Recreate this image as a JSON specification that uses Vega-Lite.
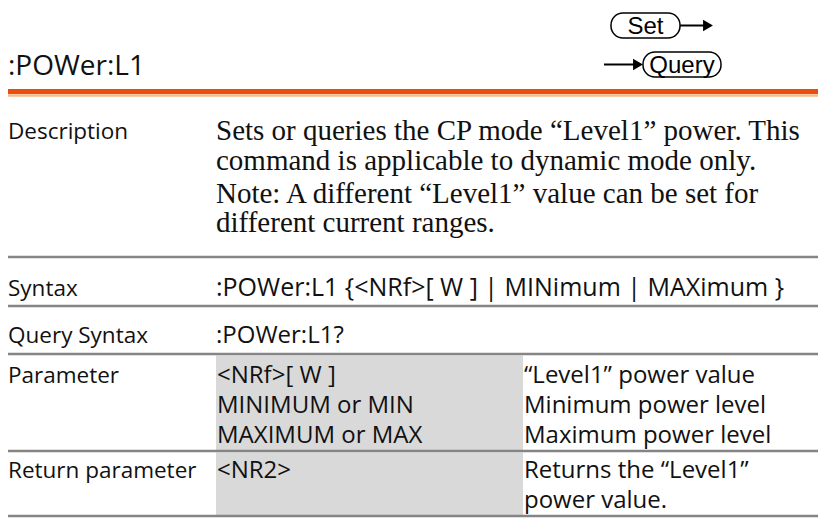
{
  "$schema": "https://vega.github.io/schema/vega-lite/v6.json",
  "width": 826,
  "height": 518,
  "autosize": {"type": "none"},
  "padding": 0,
  "background": "white",
  "config": {"view": {"stroke": null}},
  "encoding": {
    "x": {"field": "x", "type": "quantitative", "scale": {"domain": [0, 826], "nice": false, "zero": false}, "axis": null},
    "y": {"field": "y", "type": "quantitative", "scale": {"domain": [0, 518], "nice": false, "zero": false, "reverse": true}, "axis": null}
  },
  "layer": [
    {
      "data": {"values": [
        {"x": 216, "x2": 523, "y": 355.5, "y2": 450},
        {"x": 216, "x2": 523, "y": 452.5, "y2": 515}
      ]},
      "mark": {"type": "rect", "fill": "#d9d9d9"},
      "encoding": {"x2": {"field": "x2"}, "y2": {"field": "y2"}}
    },
    {
      "data": {"values": [
        {"x": 8, "x2": 818, "y": 257},
        {"x": 8, "x2": 818, "y": 306},
        {"x": 8, "x2": 818, "y": 354},
        {"x": 8, "x2": 818, "y": 451},
        {"x": 8, "x2": 818, "y": 516}
      ]},
      "mark": {"type": "rule", "stroke": "#858585", "strokeWidth": 2.5},
      "encoding": {"x2": {"field": "x2"}}
    },
    {
      "data": {"values": [{"x": 8, "x2": 818, "y": 91.5}]},
      "mark": {"type": "rule", "stroke": "#e5500c", "strokeWidth": 5},
      "encoding": {"x2": {"field": "x2"}}
    },
    {
      "data": {"values": [{"x": 8, "x2": 818, "y": 95.5}]},
      "mark": {"type": "rule", "stroke": "#f7b98a", "strokeWidth": 2.5},
      "encoding": {"x2": {"field": "x2"}}
    },
    {
      "data": {"values": [
        {"x": 680, "x2": 706, "y": 25.5},
        {"x": 604, "x2": 636, "y": 64.5}
      ]},
      "mark": {"type": "rule", "stroke": "black", "strokeWidth": 2},
      "encoding": {"x2": {"field": "x2"}}
    },
    {
      "data": {"values": [
        {"x": 708, "y": 25.5},
        {"x": 638, "y": 64.5}
      ]},
      "mark": {"type": "point", "shape": "triangle-right", "filled": true, "fill": "black", "stroke": null, "size": 130, "opacity": 1}
    },
    {
      "data": {"values": [
        {"x": 611, "x2": 680, "y": 13, "y2": 38},
        {"x": 643, "x2": 721, "y": 52, "y2": 77}
      ]},
      "mark": {"type": "rect", "fill": "white", "stroke": "black", "strokeWidth": 1.5, "cornerRadius": 12},
      "encoding": {"x2": {"field": "x2"}, "y2": {"field": "y2"}}
    },
    {
      "data": {"values": [
        {"x": 645.5, "y": 34, "text": "Set"},
        {"x": 682, "y": 73, "text": "Query"}
      ]},
      "mark": {"type": "text", "font": "Liberation Sans", "fontSize": 24, "align": "center", "baseline": "alphabetic", "fill": "black"},
      "encoding": {"text": {"field": "text"}}
    },
    {
      "data": {"values": [{"x": 8, "y": 75, "text": ":POWer:L1"}]},
      "mark": {"type": "text", "font": "Open Sans", "fontSize": 28, "align": "left", "baseline": "alphabetic", "fill": "#111111"},
      "encoding": {"text": {"field": "text"}}
    },
    {
      "data": {"values": [
        {"x": 8, "y": 139, "text": "Description"},
        {"x": 8, "y": 296, "text": "Syntax"},
        {"x": 8, "y": 343, "text": "Query Syntax"},
        {"x": 8, "y": 383, "text": "Parameter"},
        {"x": 8, "y": 478, "text": "Return parameter"}
      ]},
      "mark": {"type": "text", "font": "Open Sans", "fontSize": 22.5, "align": "left", "baseline": "alphabetic", "fill": "#111111"},
      "encoding": {"text": {"field": "text"}}
    },
    {
      "data": {"values": [
        {"x": 216, "y": 140, "text": "Sets or queries the CP mode “Level1” power. This"},
        {"x": 216, "y": 170, "text": "command is applicable to dynamic mode only."},
        {"x": 216, "y": 203, "text": "Note: A different “Level1” value can be set for"},
        {"x": 216, "y": 232, "text": "different current ranges."}
      ]},
      "mark": {"type": "text", "font": "Liberation Serif", "fontSize": 29, "align": "left", "baseline": "alphabetic", "fill": "#111111"},
      "encoding": {"text": {"field": "text"}}
    },
    {
      "data": {"values": [
        {"x": 216, "y": 296, "text": ":POWer:L1 {<NRf>[ W ] | MINimum | MAXimum }"}
      ]},
      "mark": {"type": "text", "font": "Open Sans", "fontSize": 25, "align": "left", "baseline": "alphabetic", "fill": "#111111"},
      "encoding": {"text": {"field": "text"}}
    },
    {
      "data": {"values": [
        {"x": 216, "y": 343, "text": ":POWer:L1?"},
        {"x": 217, "y": 383, "text": "<NRf>[ W ]"},
        {"x": 217, "y": 413, "text": "MINIMUM or MIN"},
        {"x": 217, "y": 443, "text": "MAXIMUM or MAX"},
        {"x": 217, "y": 478, "text": "<NR2>"},
        {"x": 524, "y": 383, "text": "“Level1” power value"},
        {"x": 524, "y": 413, "text": "Minimum power level"},
        {"x": 524, "y": 443, "text": "Maximum power level"},
        {"x": 524, "y": 478, "text": "Returns the “Level1”"},
        {"x": 524, "y": 508, "text": "power value."}
      ]},
      "mark": {"type": "text", "font": "Open Sans", "fontSize": 24, "align": "left", "baseline": "alphabetic", "fill": "#111111"},
      "encoding": {"text": {"field": "text"}}
    }
  ]
}
